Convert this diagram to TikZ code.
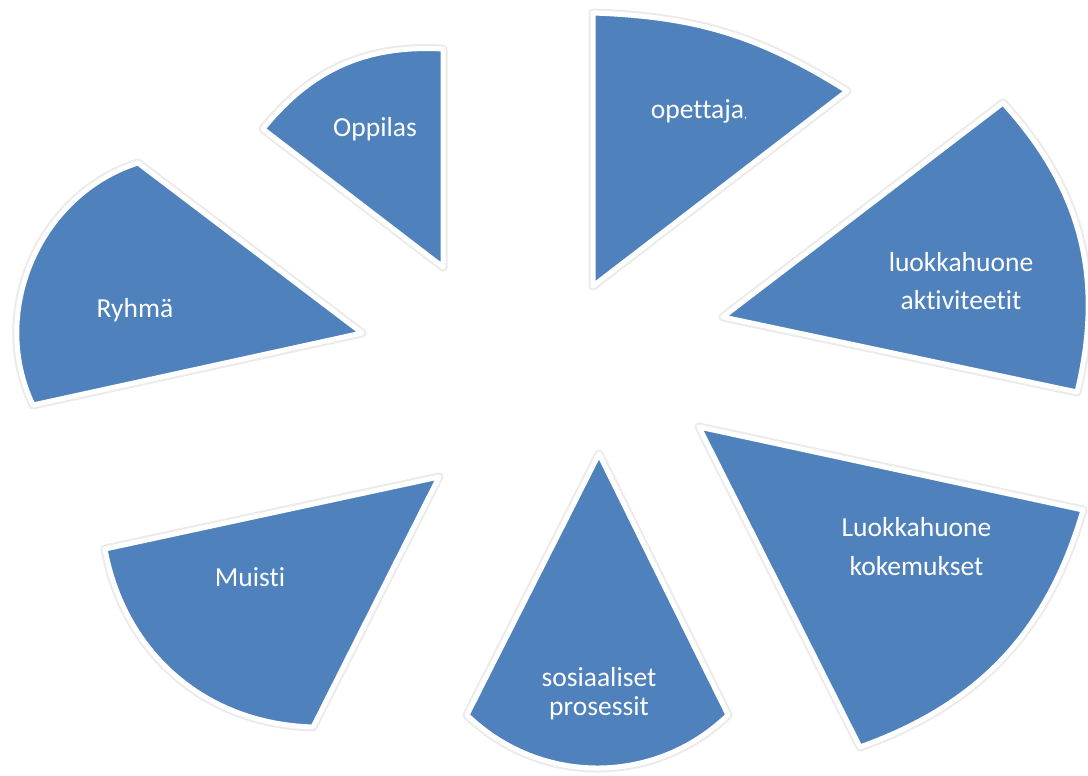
\documentclass[tikz,border=0pt]{standalone}
\usepackage{fontspec}
\setmainfont{Carlito}[Ligatures={NoCommon}]
\definecolor{secblue}{RGB}{79,129,189}
\newcommand\drawsector[4]{%
  \draw[secshadow, xshift=1.5pt, yshift=-1.5pt] (#1) -- (#2) to[bend left=#4] (#3) -- cycle;
  \draw[sector] (#1) -- (#2) to[bend left=#4] (#3) -- cycle;}
\begin{document}
\begin{tikzpicture}[x=1pt,y=1pt,
  sector/.style={fill=secblue, draw=white, line width=5pt, line join=round},
  secshadow/.style={draw=black, opacity=0.08, line width=9pt, line join=round},
  lbl/.style={text=white, align=center, anchor=base}]
\useasboundingbox (0,0) rectangle (1088,776);
\fill[white] (0,0) rectangle (1088,776);
% apex / outer corners
\coordinate (a1) at (593,490); \coordinate (b1) at (593,763); \coordinate (c1) at (847,685);
\coordinate (a2) at (723,459); \coordinate (b2) at (1003,673); \coordinate (c2) at (1077,384);
\coordinate (a3) at (699,349); \coordinate (b3) at (1083,266); \coordinate (c3) at (860,29);
\coordinate (a4) at (599,322); \coordinate (b4) at (728,61);  \coordinate (c4) at (467,61);
\coordinate (a5) at (439,299); \coordinate (b5) at (313,49);  \coordinate (c5) at (105,227);
\coordinate (a6) at (362,443); \coordinate (b6) at (33,371);  \coordinate (c6) at (138,613);
\coordinate (a7) at (443,509); \coordinate (b7) at (263,647); \coordinate (c7) at (443,727);
\drawsector{a1}{b1}{c1}{15}
\drawsector{a2}{b2}{c2}{28}
\drawsector{a3}{b3}{c3}{27}
\drawsector{a4}{b4}{c4}{44}
\drawsector{a5}{b5}{c5}{39}
\drawsector{a6}{b6}{c6}{49}
\drawsector{a7}{b7}{c7}{27}
% labels
\node[lbl, font=\fontsize{27.5}{32}\selectfont] (t1) at (699,657) {opettaja{\fontsize{12}{12}\selectfont ,}};
\node[lbl, font=\fontsize{27.5}{38.3}\selectfont] (t2) at (961,466) {luokkahuone\\aktiviteetit};
\node[lbl, font=\fontsize{27.5}{39.3}\selectfont] (t3) at (916.5,200) {Luokkahuone\\kokemukset};
\node[lbl, font=\fontsize{27.5}{29.3}\selectfont] (t4) at (599,60) {sosiaaliset\\prosessit};
\node[lbl, font=\fontsize{27.5}{32}\selectfont] (t5) at (250,189) {Muisti};
\node[lbl, font=\fontsize{27.5}{32}\selectfont] (t6) at (135,458) {Ryhmä};
\node[lbl, font=\fontsize{27.5}{32}\selectfont] (t7) at (375,639) {Oppilas};
\end{tikzpicture}
\end{document}
